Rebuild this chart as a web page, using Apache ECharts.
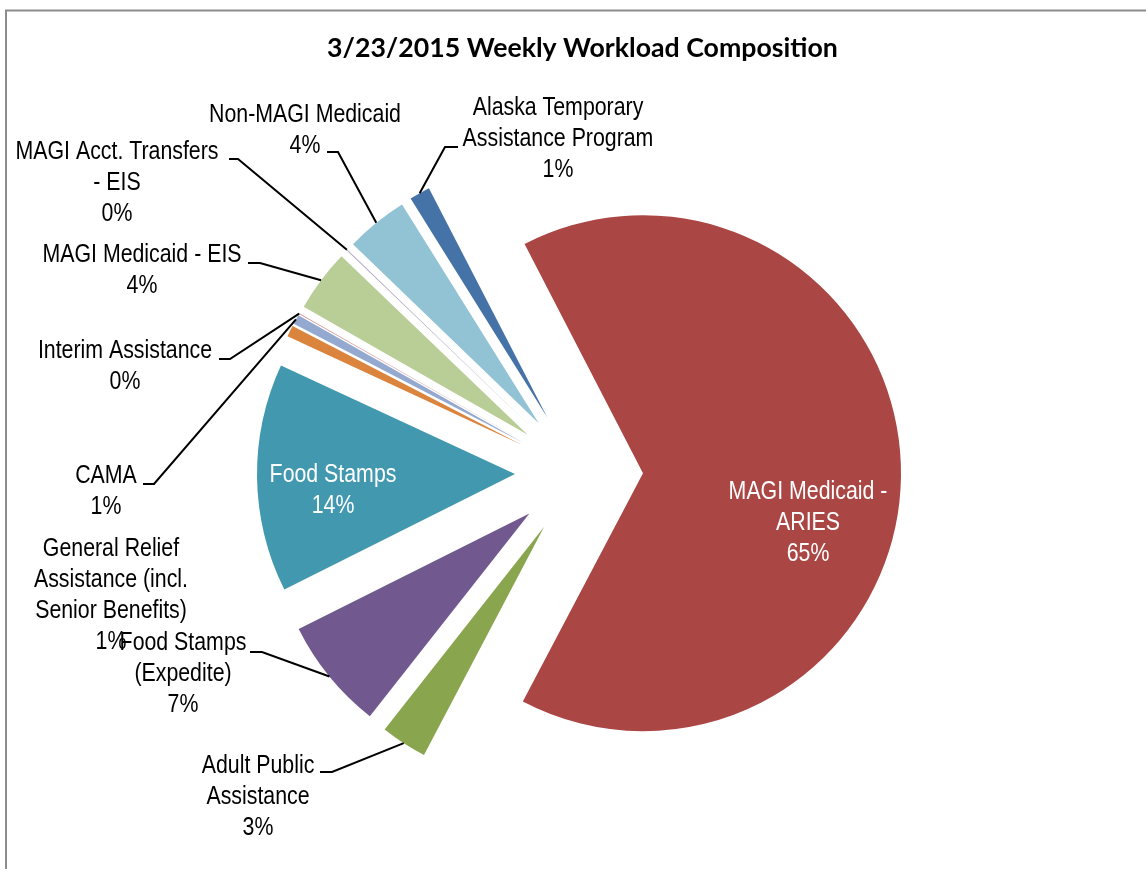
<!DOCTYPE html>
<html><head><meta charset="utf-8">
<script src="https://cdn.jsdelivr.net/npm/echarts@6/dist/echarts.min.js"></script>
<style>html,body{margin:0;padding:0;background:#fff}#c{width:1146px;height:869px}</style>
</head><body><div id="c"></div>
<script>
// ---- data ----
const categories = ['Alaska Temporary Assistance Program','MAGI Medicaid - ARIES','Adult Public Assistance','Food Stamps (Expedite)','Food Stamps','General Relief Assistance (incl. Senior Benefits)','CAMA','Interim Assistance','MAGI Medicaid - EIS','MAGI Acct. Transfers - EIS','Non-MAGI Medicaid'];
const labelNames = ['Alaska Temporary\nAssistance Program','MAGI Medicaid -\nARIES','Adult Public\nAssistance','Food Stamps\n(Expedite)','Food Stamps','General Relief\nAssistance (incl.\nSenior Benefits)','CAMA','Interim Assistance','MAGI Medicaid - EIS','MAGI Acct. Transfers\n- EIS','Non-MAGI Medicaid'];
const shares = [1.3, 65.3, 2.9, 7.0, 14.3, 0.7, 0.6, 0.05, 3.9, 0.05, 3.9];
const insideLabel = [false, true, false, false, true, false, false, false, false, false, false];
const showLeader = [true, false, true, true, false, false, true, true, true, true, true];

// ---- styles / layout ----
const colors = ['#4572A7','#AA4643','#89A54E','#71588F','#4198AF','#DB843D','#93A9CF','#D19392','#B9CD96','#A99BBD','#92C3D4'];
const labelSpec = [
  {x:558, y:139, line:[[445,147],[458,147]]},
  {x:808, y:523},
  {x:258, y:797, line:[[332,772],[320,772]]},
  {x:183, y:674, line:[[262,652],[250,652]]},
  {x:333, y:490},
  {x:111, y:595},
  {x:106, y:491, line:[[154,484],[143,484]]},
  {x:125, y:366, line:[[230,359],[219,359]]},
  {x:142, y:270, line:[[260,263],[248,263]]},
  {x:117, y:183, line:[[238,159],[229,159]]},
  {x:305, y:130, line:[[338,152],[327,152]]}
];
const CX = 579, CY = 473, R = 258, OFF = 64, START = 122;
const labelFont = "'Liberation Sans', Arial, sans-serif";

const total = shares.reduce((a, b) => a + b, 0);
const graphics = [
  {type:'polyline', shape:{points:[[6,869],[6,10.5],[1146,10.5]]}, style:{stroke:'#8c8c8c', lineWidth:2, fill:null}}
];
let acc = 0;
shares.forEach((v, i) => {
  const theta = (90 - START + (acc + v / 2) / total * 360) * Math.PI / 180; // clockwise from 12 o'clock
  acc += v;
  const s = labelSpec[i];
  const pct = Math.round(v / total * 100);
  graphics.push({
    type:'text', x:s.x, y:s.y, scaleX:0.82, z:10,
    style:{text: labelNames[i] + '\n' + pct + '%', fill: insideLabel[i] ? '#fff' : '#000',
      fontFamily: labelFont, fontSize: 26, lineHeight: 31, align:'center', verticalAlign:'middle'}
  });
  if (showLeader[i]) {
    const sx = CX + (R + OFF) * Math.sin(theta), sy = CY - (R + OFF) * Math.cos(theta);
    graphics.push({type:'polyline', z:10, shape:{points:[[sx, sy], s.line[0], s.line[1]]},
      style:{stroke:'#000', lineWidth:2, fill:null}});
  }
});

const chart = echarts.init(document.getElementById('c'), null, {renderer:'canvas'});
const data = categories.map((n, i) => ({
  name: n, value: shares[i], selected: true, itemStyle: {color: colors[i]}
}));

chart.setOption({
  animation: false,
  backgroundColor: '#fff',
  title: {
    text: '3/23/2015 Weekly Workload Composition',
    left: 322, top: 30,
    textStyle: {fontFamily: "Lato, 'Open Sans', sans-serif", fontWeight: 'bold', fontSize: 26.7, color: '#000'}
  },
  graphic: graphics,
  series: [{
    type: 'pie',
    center: [CX, CY],
    radius: [0, R],
    startAngle: START,
    clockwise: true,
    selectedMode: 'multiple',
    selectedOffset: OFF,
    minAngle: 0,
    itemStyle: {borderWidth: 0},
    emphasis: {disabled: true},
    select: {itemStyle: {borderWidth: 0}},
    label: {show: false},
    labelLine: {show: false},
    data: data
  }]
});
</script></body></html>
